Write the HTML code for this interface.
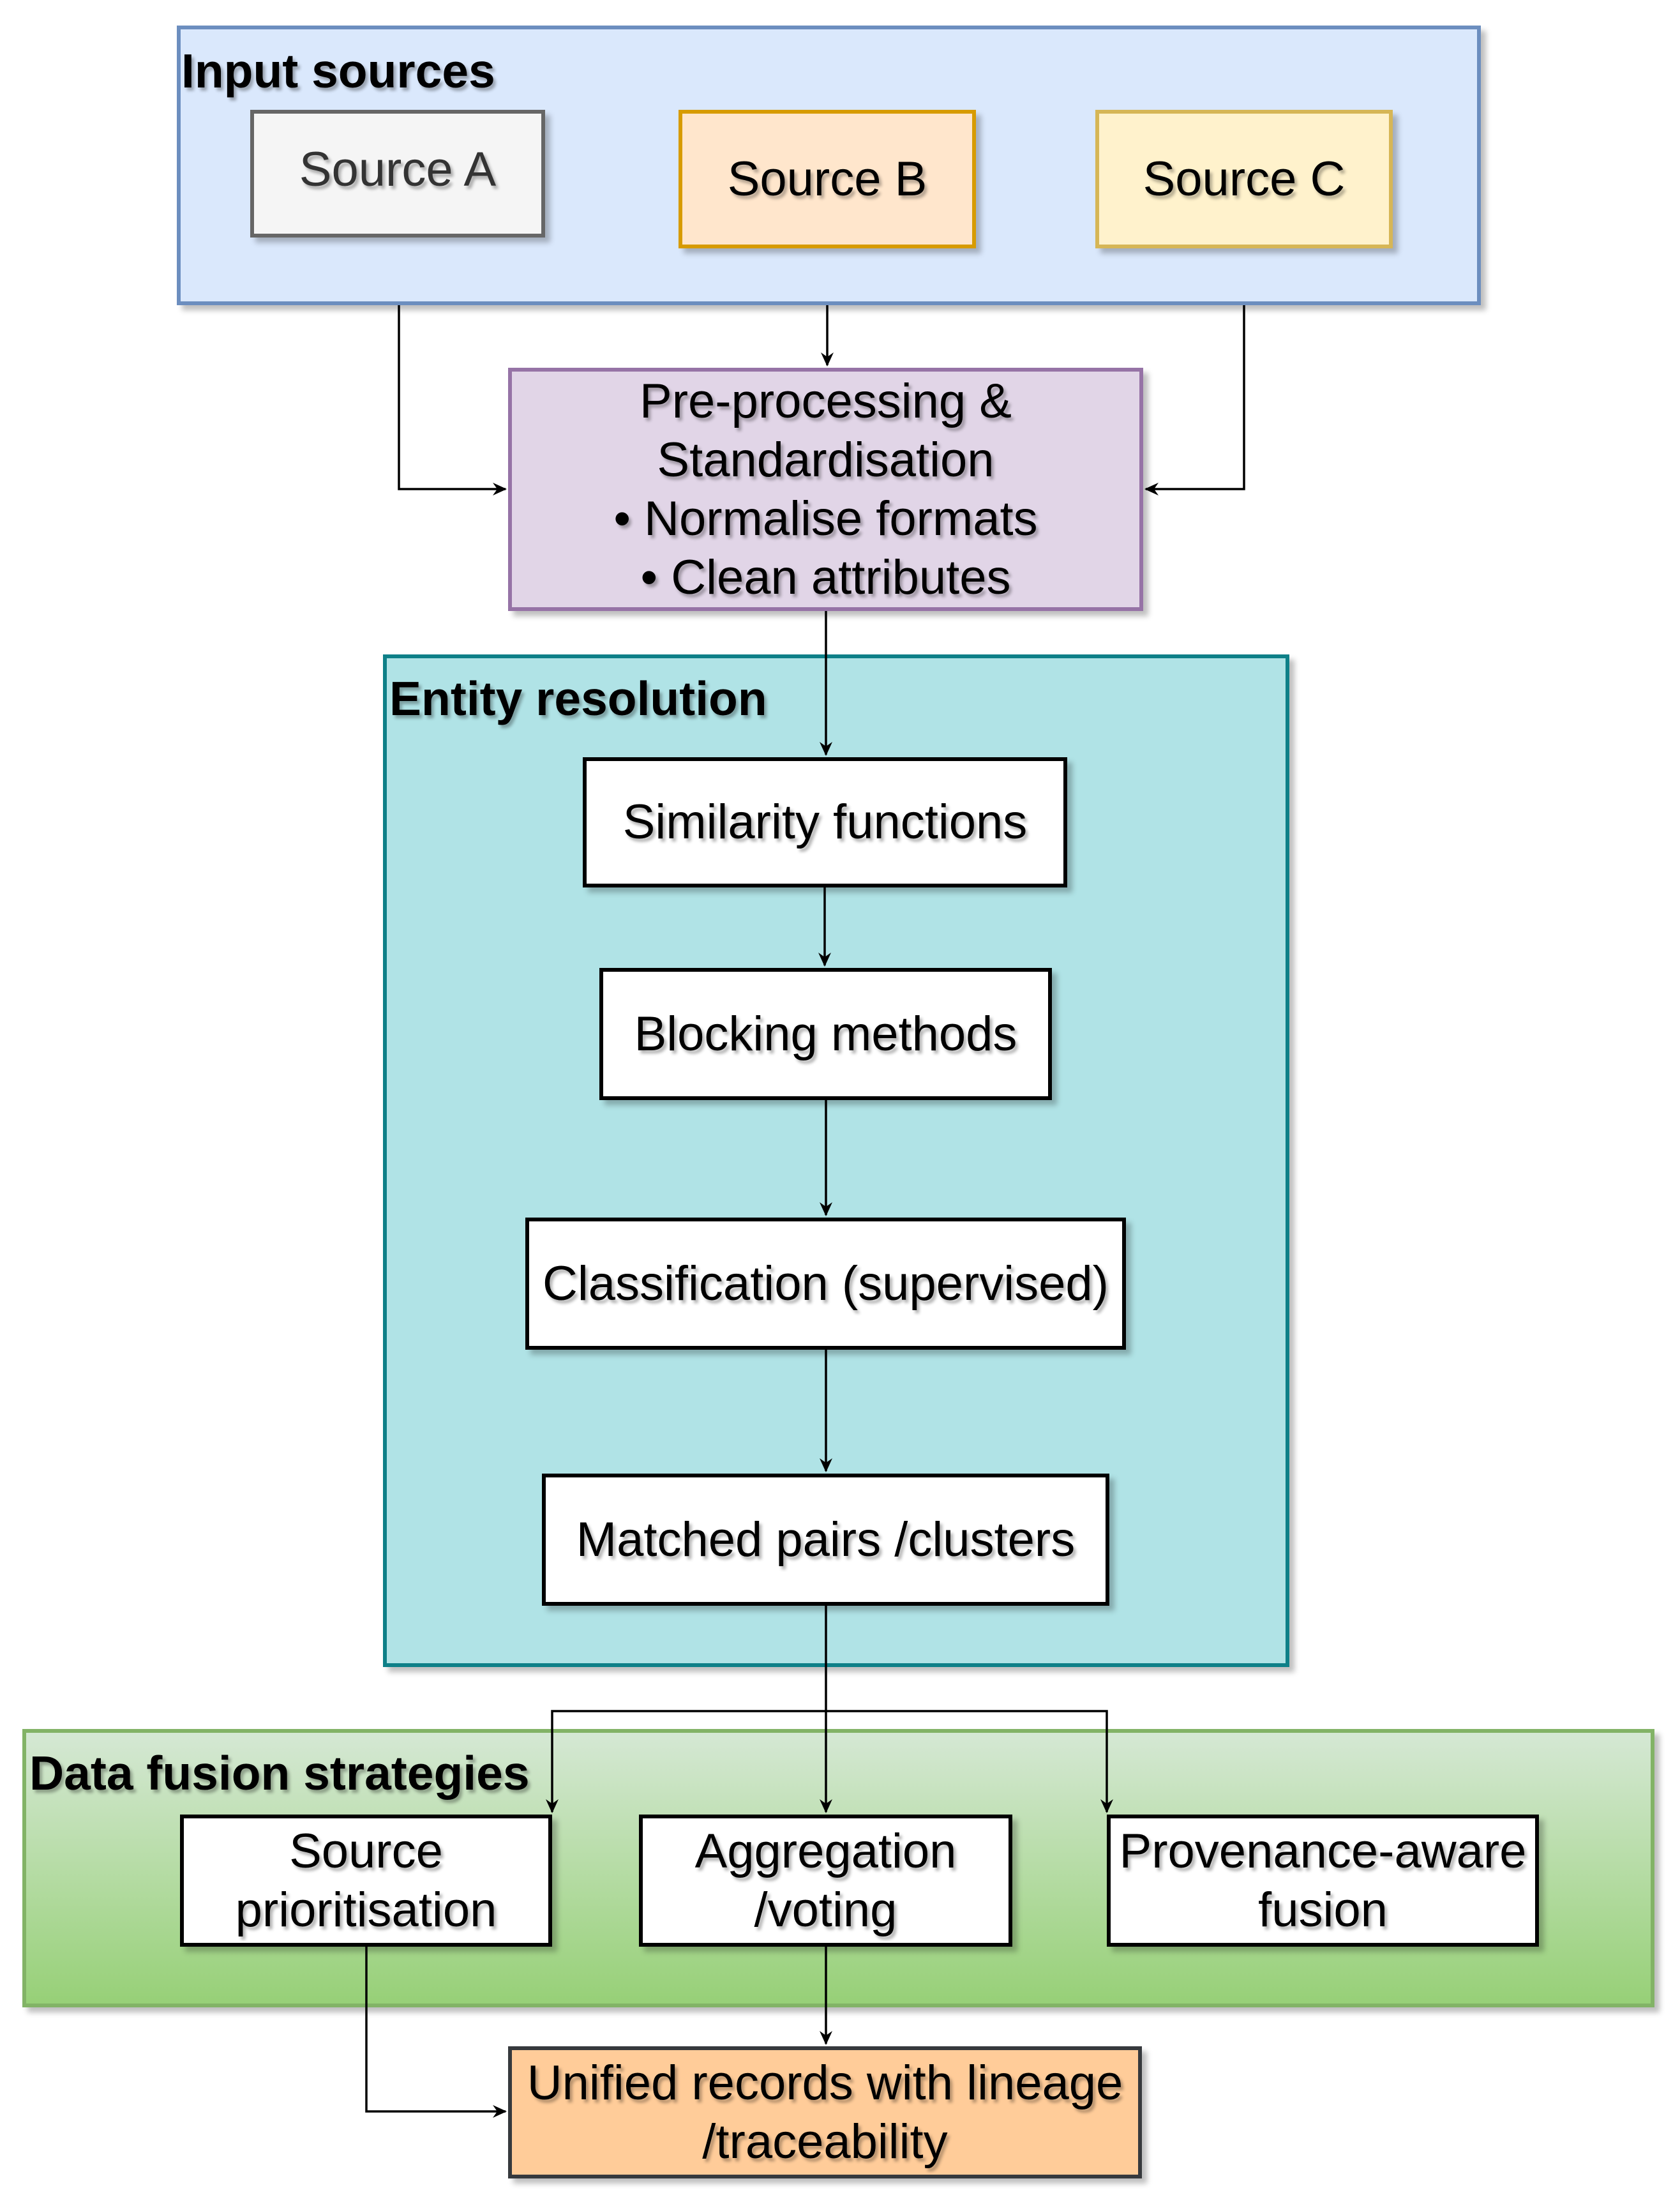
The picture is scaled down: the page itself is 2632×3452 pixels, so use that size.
<!DOCTYPE html>
<html><head><meta charset="utf-8"><style>
body{margin:0;width:2632px;height:3452px;background:#fff;position:relative;overflow:hidden;font-family:"Liberation Sans",Arial,sans-serif}
.b{position:absolute;box-sizing:border-box;border:6px solid #000;background:#fff;box-shadow:8px 8px 8px rgba(0,0,0,0.25);display:flex;align-items:center;justify-content:center;text-align:center;font-size:76px;line-height:92px;color:#000;text-shadow:4px 5px 5px rgba(0,0,0,0.3)}
.g{position:absolute;box-sizing:border-box;border:6px solid;box-shadow:8px 8px 8px rgba(0,0,0,0.25)}
.t{position:absolute;font-weight:bold;font-size:75px;color:#000;text-shadow:4px 5px 5px rgba(0,0,0,0.3);white-space:nowrap}
svg{position:absolute;left:0;top:0}
</style></head><body>
<div class="g" style="left:277px;top:40px;width:2043px;height:438px;background:#dae8fc;border-color:#6c8ebf"></div>
<div class="t" style="left:284px;top:68px">Input sources</div>
<div class="b" style="left:392px;top:172px;width:462px;height:200px;background:#f5f5f5;border-color:#666;color:#333;padding-bottom:12px">Source A</div>
<div class="b" style="left:1063px;top:172px;width:466px;height:217px;background:#ffe6cc;border-color:#d79b00">Source B</div>
<div class="b" style="left:1716px;top:172px;width:466px;height:217px;background:#fff2cc;border-color:#d6b656">Source C</div>
<div class="b" style="left:796px;top:576px;width:995px;height:381px;background:#e1d5e7;border-color:#9673a6">Pre-processing &amp;<br>Standardisation<br>• Normalise formats<br>• Clean attributes</div>
<div class="g" style="left:600px;top:1025px;width:1420px;height:1586px;background:#b0e3e6;border-color:#0e8088"></div>
<div class="t" style="left:610px;top:1051px">Entity resolution</div>
<div class="b" style="left:913px;top:1186px;width:759px;height:204px">Similarity functions</div>
<div class="b" style="left:939px;top:1516px;width:709px;height:207px">Blocking methods</div>
<div class="b" style="left:823px;top:1907px;width:941px;height:207px">Classification (supervised)</div>
<div class="b" style="left:849px;top:2308px;width:889px;height:207px">Matched pairs /clusters</div>
<div class="g" style="left:35px;top:2708px;width:2557px;height:436px;background:linear-gradient(#d5e8d4,#97d077);border-color:#82b366"></div>
<div class="t" style="left:46px;top:2734px">Data fusion strategies</div>
<div class="b" style="left:282px;top:2842px;width:583px;height:207px">Source<br>prioritisation</div>
<div class="b" style="left:1001px;top:2842px;width:585px;height:207px">Aggregation<br>/voting</div>
<div class="b" style="left:1734px;top:2842px;width:677px;height:207px">Provenance-aware<br>fusion</div>
<div class="b" style="left:796px;top:3205px;width:993px;height:207px;background:#ffcc99;border-color:#36393d">Unified records with lineage<br>/traceability</div>
<svg width="2632" height="3452" viewBox="0 0 2632 3452">
<defs><marker id="a" markerWidth="24" markerHeight="24" refX="20" refY="12" orient="auto" markerUnits="userSpaceOnUse" viewBox="0 0 24 24"><path d="M0,2 L22,12 L0,22 L7,12 Z" fill="#000"/></marker></defs>
<g fill="none" stroke="#000" stroke-width="3.5">
<path d="M625 478 V766 H792" marker-end="url(#a)"/>
<path d="M1296 478 V572" marker-end="url(#a)"/>
<path d="M1949 478 V766 H1795" marker-end="url(#a)"/>
<path d="M1294 957 V1182" marker-end="url(#a)"/>
<path d="M1292 1390 V1512" marker-end="url(#a)"/>
<path d="M1294 1723 V1903" marker-end="url(#a)"/>
<path d="M1294 2114 V2304" marker-end="url(#a)"/>
<path d="M1294 2515 V2838" marker-end="url(#a)"/>
<path d="M1294 2680 H865 V2838" marker-end="url(#a)"/>
<path d="M1294 2680 H1734 V2838" marker-end="url(#a)"/>
<path d="M1294 3049 V3201" marker-end="url(#a)"/>
<path d="M574 3049 V3307 H792" marker-end="url(#a)"/>
</g></svg>
</body></html>
